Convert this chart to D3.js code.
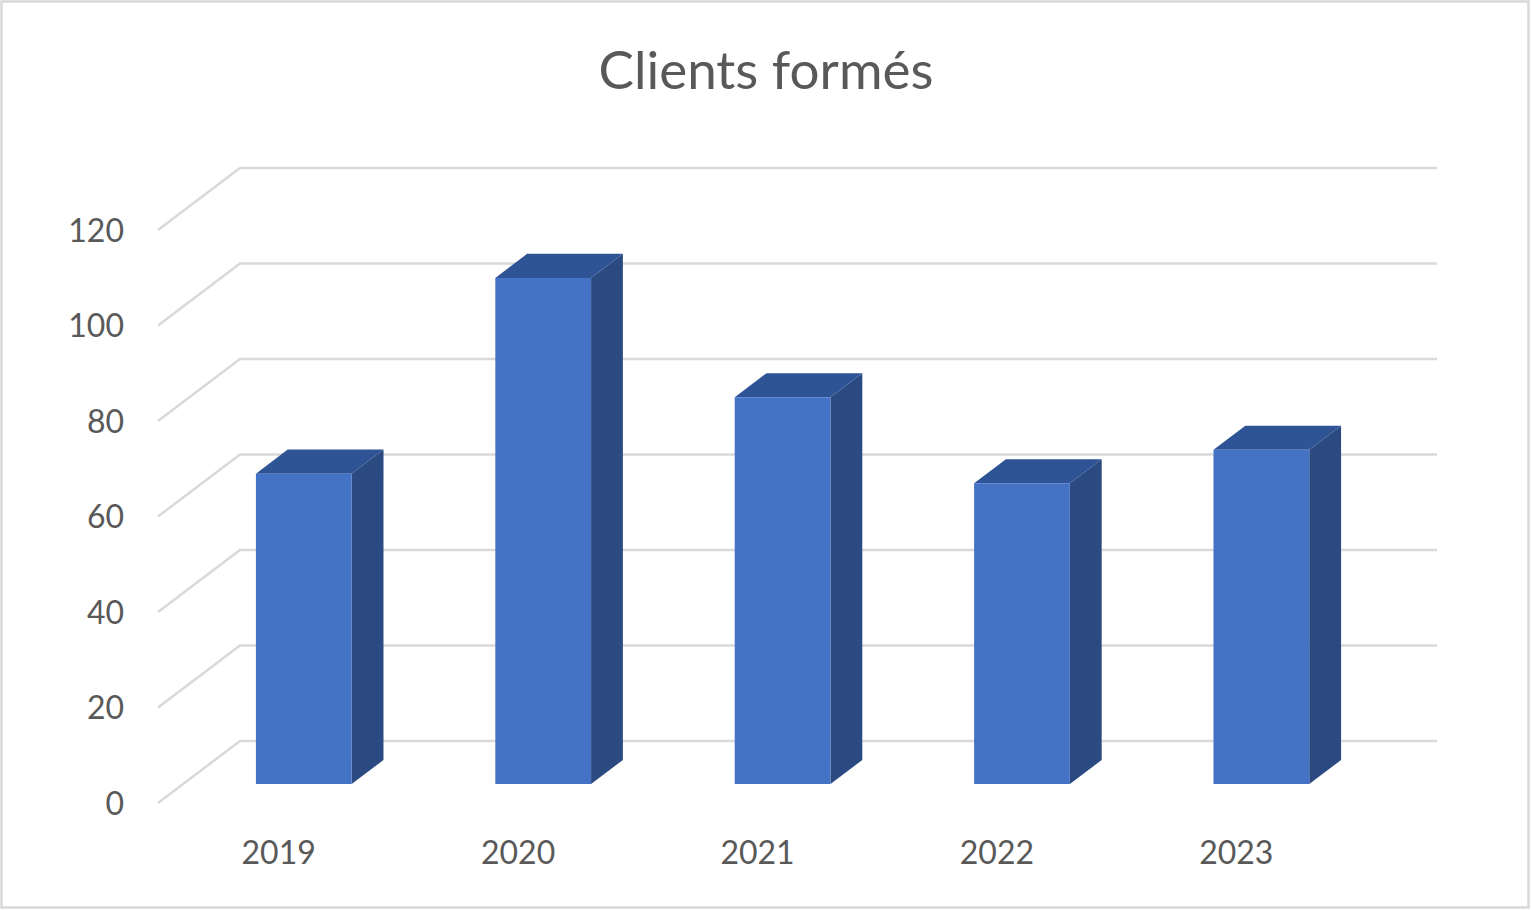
<!DOCTYPE html>
<html>
<head>
<meta charset="utf-8">
<script src="https://cdn.jsdelivr.net/npm/d3@7"></script>
<style>
  body { margin: 0; background: #fff; }
  text { font-family: Lato, "Open Sans", sans-serif; fill: #595959; }
</style>
</head>
<body>
<div id="chart"></div>
<script>
// data
const years = ["2019", "2020", "2021", "2022", "2023"];
const clients = [65, 106, 81, 63, 70];
const yTicks = [0, 20, 40, 60, 80, 100, 120];
const title = "Clients formés";

const W = 1532, H = 910;

// front plane of the 3d box and the depth offset
const x0 = 158, x1 = 1355, floorY = 803;
const depth = {dx: 82, dy: -62};
const barDepth = [0.306, 0.694]; // front/back of columns inside the box

const svg = d3.select("#chart").append("svg")
  .attr("width", W).attr("height", H);

svg.append("rect")
  .attr("x", 1.5).attr("y", 1.5)
  .attr("width", W - 5).attr("height", H - 4)
  .attr("fill", "#fff")
  .attr("stroke", "#d9d9d9").attr("stroke-width", 2.5);

const xScale = d3.scaleBand()
  .domain(years)
  .range([x0 + 1, x1 + 1])
  .paddingInner(0.6)
  .paddingOuter(0.3);

const yScale = d3.scaleLinear()
  .domain([0, 120])
  .range([floorY, floorY - 573]);

// project (front x, value, depth) -> screen
function P(x, v, d) {
  return [x + depth.dx * d, yScale(v) + depth.dy * d];
}

// gridlines: side wall diagonal + back wall horizontal
const grid = svg.append("g").attr("class", "grid")
  .attr("fill", "none").attr("stroke", "#d9d9d9").attr("stroke-width", 2.5);

yTicks.forEach(t => {
  const a = P(x0, t, 0), b = P(x0, t, 1), c = P(x1, t, 1);
  grid.append("path").attr("d", d3.line()([a, b, c]));
});

// y labels
svg.append("g").selectAll("text")
  .data(yTicks)
  .join("text")
  .attr("x", 124)
  .attr("y", d => yScale(d))
  .attr("dy", "0.36em")
  .attr("text-anchor", "end")
  .attr("font-size", 32)
  .text(d => d);

// x labels
svg.append("g").selectAll("text")
  .data(years)
  .join("text")
  .attr("x", d => xScale(d) + xScale.bandwidth() / 2)
  .attr("y", 852)
  .attr("dy", "0.36em")
  .attr("text-anchor", "middle")
  .attr("font-size", 32)
  .text(d => d);

// columns
const bars = svg.append("g").selectAll("g")
  .data(years.map((y, i) => ({year: y, value: clients[i]})))
  .join("g");

const poly = pts => "M" + pts.map(p => p.join(",")).join("L") + "Z";

bars.each(function(d) {
  const g = d3.select(this);
  const xl = xScale(d.year), xr = xl + xScale.bandwidth();
  const [f, b] = barDepth;
  // side
  g.append("path").attr("fill", "#2b4a81")
    .attr("d", poly([P(xr, 0, f), P(xr, d.value, f), P(xr, d.value, b), P(xr, 0, b)]));
  // top
  g.append("path").attr("fill", "#2f5496")
    .attr("d", poly([P(xl, d.value, f), P(xr, d.value, f), P(xr, d.value, b), P(xl, d.value, b)]));
  // front
  g.append("path").attr("fill", "#4472c4")
    .attr("d", poly([P(xl, 0, f), P(xr, 0, f), P(xr, d.value, f), P(xl, d.value, f)]));
});

// title
svg.append("text")
  .attr("x", 766)
  .attr("y", 89)
  .attr("text-anchor", "middle")
  .attr("font-size", 53)
  .text(title);
</script>
</body>
</html>
